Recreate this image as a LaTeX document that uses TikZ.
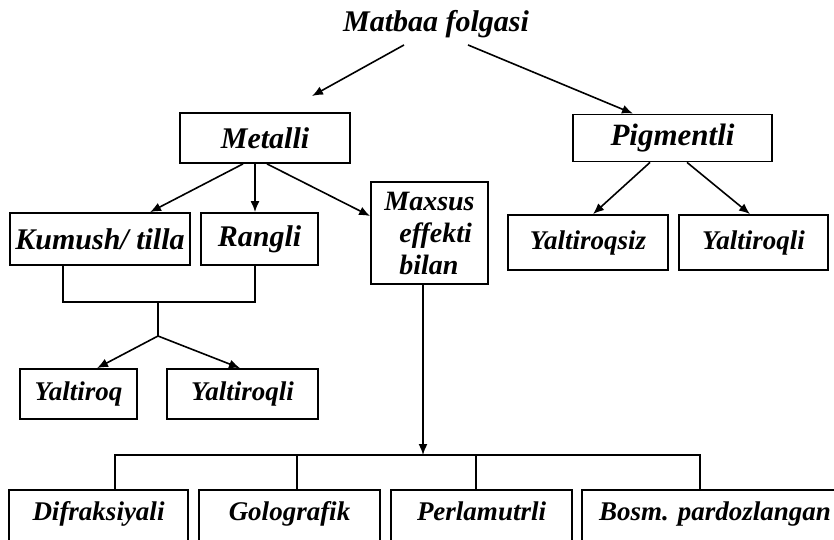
\documentclass[tikz,border=0pt]{standalone}
\usepackage{fontspec}
\setmainfont{Liberation Serif}
\usetikzlibrary{arrows.meta,calc}
\begin{document}
\begin{tikzpicture}[x=1pt,y=-1pt,
  bfont/.style={font=\bfseries\itshape\fontsize{30}{32}\selectfont},
  sfont/.style={font=\bfseries\itshape\fontsize{27}{30}\selectfont},
  box/.style={draw, line width=1.8pt, inner sep=0pt, bfont},
  sbox/.style={draw, line width=1.8pt, inner sep=0pt, sfont},
  bottombox/.style={draw, line width=1.8pt, inner sep=0pt, sfont, anchor=north, text height=31pt, text depth=40pt},
  conn/.style={line width=1.6pt},
  arr/.style={line width=1.6pt, -{Latex[length=11pt,width=9pt]}}
]
\path[use as bounding box] (0,0) rectangle (834,539);
\fill[white] (0,0) rectangle (834,539);
\clip (0,0) rectangle (834,539);

% nodes
\node[bfont, inner sep=0pt] (title) at (436,24) {Matbaa folgasi};
\node[box, minimum width=170pt, minimum height=50pt] (metalli) at (265,138) {Metalli};
\node[box, minimum width=199pt, minimum height=47pt, font=\bfseries\itshape\fontsize{31}{32}\selectfont] (pigment) at (672.5,138) {Pigmentli};
\node[box, minimum width=180pt, minimum height=52pt] (kumush) at (100,239) {Kumush/ tilla};
\node[box, minimum width=117pt, minimum height=52pt] (rangli) at (259.5,239) {Rangli};
\node[box, minimum width=117pt, minimum height=102pt, align=left, font=\bfseries\itshape\fontsize{28}{32}\selectfont] (maxsus) at (429.5,233) {Maxsus\\\hspace*{15pt}effekti\\\hspace*{15pt}bilan};
\node[sbox, minimum width=160pt, minimum height=55pt] (yqsiz) at (588,242.5) {Yaltiroqsiz};
\node[sbox, minimum width=149pt, minimum height=55pt] (yqliR) at (753.5,242.5) {Yaltiroqli};
\node[sbox, minimum width=117pt, minimum height=50pt] (yq) at (78.5,394) {Yaltiroq};
\node[sbox, minimum width=151pt, minimum height=50pt] (yqliL) at (242.5,394) {Yaltiroqli};
\node[bottombox, minimum width=179pt] (difr) at (98.5,489) {Difraksiyali};
\node[bottombox, minimum width=181pt] (golo) at (289.5,489) {Golografik};
\node[bottombox, minimum width=181pt] (perl) at (481.5,489) {Perlamutrli};
\node[bottombox, minimum width=266pt] (bosm) at (715,489) {Bosm. pardozlangan};

% junctions
\coordinate (j1) at (158,301);
\coordinate (j2) at (158,336);
\coordinate (bus) at (423,455);
\coordinate (tl) at (312,96);

% connectors
\draw[arr] ($(title.south)+(-32,7)$) -- (tl);
\draw[arr] ($(title.south)+(32,7)$) -- ([xshift=-39.5pt]pigment.north);

\draw[arr] ([xshift=-22pt]metalli.south) -- ([xshift=50pt]kumush.north);
\draw[arr] ([xshift=-10pt]metalli.south) -- ([xshift=-4.5pt]rangli.north);
\draw[arr] ([xshift=2pt]metalli.south) -- ([yshift=17pt]maxsus.west);

\draw[arr] ([xshift=-22.5pt]pigment.south) -- ([xshift=5pt]yqsiz.north);
\draw[arr] ([xshift=14.5pt]pigment.south) -- ([xshift=-3.5pt]yqliR.north);

\draw[conn] ([xshift=-37pt]kumush.south) -- ++(0,36) -| ([xshift=-4.5pt]rangli.south);
\draw[conn] (j1) -- (j2);
\draw[arr] (j2) -- ([xshift=18.5pt]yq.north);
\draw[arr] (j2) -- ([xshift=-2.5pt]yqliL.north);

\draw[arr] ([xshift=-6.5pt]maxsus.south) -- (bus);
\draw[conn] ([xshift=16.5pt]difr.north) |- (bus) -| ([xshift=-15pt]bosm.north);
\draw[conn] ([xshift=7.5pt]golo.north) -- ++(0,-34);
\draw[conn] ([xshift=-5.5pt]perl.north) -- ++(0,-34);
\end{tikzpicture}
\end{document}
